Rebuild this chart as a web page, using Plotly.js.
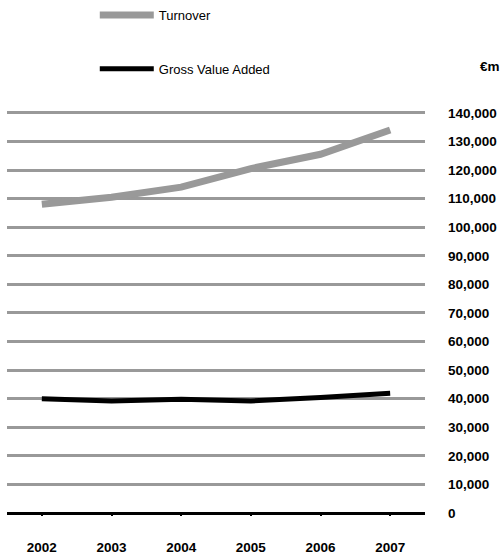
<!DOCTYPE html>
<html>
<head>
<meta charset="utf-8">
<script src="https://cdn.plot.ly/plotly-3.0.1.min.js"></script>
<style>html,body{margin:0;padding:0;background:#fff;}#chart{width:502px;height:556px;}</style>
</head>
<body>
<div id="chart"></div>
<script>
const years = ['2002', '2003', '2004', '2005', '2006', '2007'];
const turnover = [108000, 110500, 114000, 120500, 125500, 134000];
const grossValueAdded = [40000, 39200, 39800, 39200, 40400, 41900];
const yTickValues = [0, 10000, 20000, 30000, 40000, 50000, 60000, 70000, 80000, 90000, 100000, 110000, 120000, 130000, 140000];
const yTickLabels = ['0', '10,000', '20,000', '30,000', '40,000', '50,000', '60,000', '70,000', '80,000', '90,000', '100,000', '110,000', '120,000', '130,000', '140,000'];

const data = [
  {x: years, y: turnover, name: 'Turnover', type: 'scatter', mode: 'lines',
   line: {color: '#999999', width: 7}, legendgroup: 'a'},
  {x: years, y: grossValueAdded, name: 'Gross Value Added', type: 'scatter', mode: 'lines',
   line: {color: '#000000', width: 5}, legendgroup: 'b'}
];

const layout = {
  width: 502, height: 556,
  margin: {l: 7, r: 77, t: 110, b: 43},
  paper_bgcolor: '#ffffff', plot_bgcolor: '#ffffff',
  font: {family: 'Liberation Sans, Arial, sans-serif', color: '#000', size: 12},
  showlegend: true,
  legend: {x: 0.21, y: 1, xref: 'paper', yref: 'container', xanchor: 'left', yanchor: 'top',
    tracegroupgap: 34, traceorder: 'grouped', itemwidth: 54,
    font: {size: 13, family: 'Liberation Sans, Arial, sans-serif'}, bgcolor: 'rgba(0,0,0,0)'},
  xaxis: {type: 'category', range: [-0.5, 5.5], showgrid: false, zeroline: false,
    showline: false, ticks: 'outside', ticklen: 2, tickcolor: '#000', tickwidth: 2,
    tickfont: {size: 13.5, family: 'Liberation Sans, Arial, sans-serif', weight: 'bold'},
    ticklabelstandoff: 20, fixedrange: true},
  yaxis: {side: 'right', range: [0, 141000], tickvals: yTickValues, ticktext: yTickLabels,
    showgrid: true, gridcolor: '#999999', gridwidth: 3,
    zeroline: true, zerolinecolor: '#000000', zerolinewidth: 3,
    showline: false, ticks: '', ticklabelstandoff: 22,
    tickfont: {size: 13.5, family: 'Liberation Sans, Arial, sans-serif', weight: 'bold'},
    fixedrange: true},
  annotations: [
    {text: '€m', xref: 'paper', yref: 'paper', x: 1.155, y: 1.108, xanchor: 'center', yanchor: 'middle',
     showarrow: false, font: {size: 13.5, weight: 'bold', family: 'Liberation Sans, Arial, sans-serif'}}
  ]
};

Plotly.newPlot('chart', data, layout, {displayModeBar: false, staticPlot: true});
</script>
</body>
</html>
